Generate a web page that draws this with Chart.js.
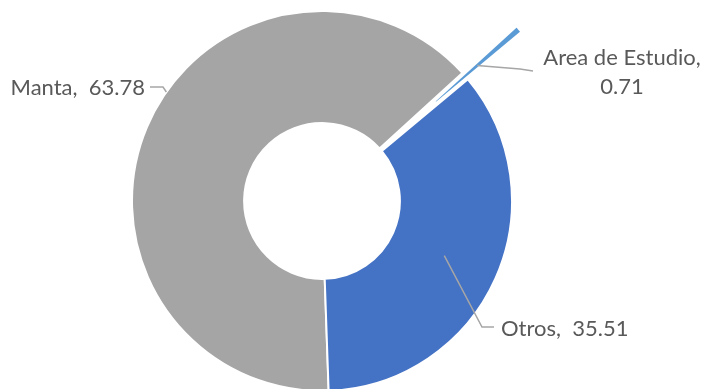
<!DOCTYPE html>
<html>
<head>
<meta charset="utf-8">
<script src="https://cdn.jsdelivr.net/npm/chart.js@4"></script>
<style>
	html, body { margin: 0; padding: 0; background: #fff; }
	.grafico-container { position: relative; width: 704px; height: 389px; }
</style>
</head>
<body>
<div class="grafico-container"><canvas id="graficoRosca"></canvas></div>
<script>
// dados
var categorias = ["Manta", "Area de Estudio", "Otros"]
var valores = [63.78, 0.71, 35.51]
var cores = ["#A5A5A5", "#5B9BD5", "#4472C4"]
var quebraLinha = [false, true, false]

const DESTAQUE = 72 // quanto a fatia "Area de Estudio" sai da rosca
const COR_TEXTO = "#595959"
const COR_GUIA = "#A6A6A6"
const FONTE = "22px Lato"
const ENTRELINHA = 29

// posicao dos rotulos e das linhas guia
var rotulos = [
	{ ponta: "borda", angulo: 305, meio: [163, 87], fim: [150, 87], x: 145, y: 88, align: "right" },
	{ ponta: "centro", meio: [520, 69], fim: [533, 71], x: 622, y: 58, align: "center" },
	{ ponta: "centro", meio: [482, 327], fim: [494, 327], x: 501, y: 329, align: "left" },
]

function textoRotulo(i) {
	var valor = valores[i].toFixed(2)
	if (quebraLinha[i]) return [categorias[i] + ",", valor]
	return [categorias[i] + ",  " + valor]
}

var destacarFatia = {
	id: "destacarFatia",
	afterDatasetsUpdate(chart) {
		var arco = chart.getDatasetMeta(0).data[1]
		var meio = (arco.startAngle + arco.endAngle) / 2
		arco.x += Math.cos(meio) * DESTAQUE
		arco.y += Math.sin(meio) * DESTAQUE
	}
}

var desenharRotulos = {
	id: "desenharRotulos",
	afterDatasetsDraw(chart) {
		var ctx = chart.ctx
		var arcos = chart.getDatasetMeta(0).data
		ctx.save()
		for (let i = 0; i < arcos.length; i++) {
			let r = rotulos[i]
			let arco = arcos[i]
			let p
			if (r.ponta == "borda") {
				let a = (r.angulo - 90) * Math.PI / 180
				p = { x: arco.x + Math.cos(a) * arco.outerRadius, y: arco.y + Math.sin(a) * arco.outerRadius }
			} else {
				p = arco.tooltipPosition()
			}
			ctx.strokeStyle = COR_GUIA
			ctx.lineWidth = 1.5
			ctx.beginPath()
			ctx.moveTo(p.x, p.y)
			ctx.lineTo(r.meio[0], r.meio[1])
			ctx.lineTo(r.fim[0], r.fim[1])
			ctx.stroke()

			ctx.fillStyle = COR_TEXTO
			ctx.font = FONTE
			ctx.textAlign = r.align
			ctx.textBaseline = "middle"
			let linhas = textoRotulo(i)
			for (let j = 0; j < linhas.length; j++) {
				ctx.fillText(linhas[j], r.x, r.y + j * ENTRELINHA)
			}
		}
		ctx.restore()
	}
}

var graficoRosca = new Chart(document.getElementById("graficoRosca"), {
	type: "doughnut",
	data: {
		labels: categorias,
		datasets: [{
			data: valores,
			backgroundColor: cores,
			borderColor: "#ffffff",
			borderWidth: [2, 3, 2],
		}]
	},
	options: {
		responsive: true,
		maintainAspectRatio: false,
		animation: false,
		events: [],
		rotation: 178,
		radius: 190,
		cutout: "41%",
		layout: { padding: { left: 0, right: 60, top: 13, bottom: 0 } },
		plugins: {
			legend: { display: false },
			tooltip: { enabled: false },
		},
	},
	plugins: [destacarFatia, desenharRotulos]
})
</script>
</body>
</html>
